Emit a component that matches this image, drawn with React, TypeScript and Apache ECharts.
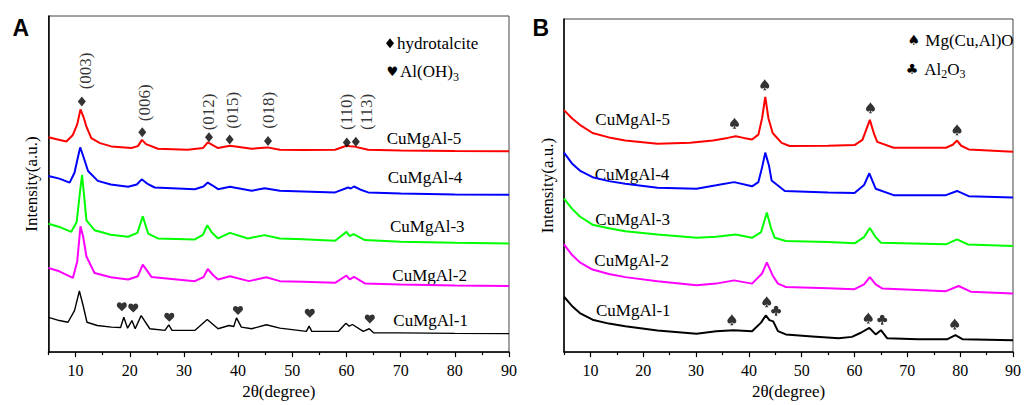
import React, { useEffect, useRef } from "react";
import * as echarts from "echarts";

// ---------- axis ticks ----------
const majorTicks = [10, 20, 30, 40, 50, 60, 70, 80, 90];
const minorTicks = [5, 15, 25, 35, 45, 55, 65, 75, 85];

// ---------- samples ----------
const sampleNames = ["CuMgAl-1", "CuMgAl-2", "CuMgAl-3", "CuMgAl-4", "CuMgAl-5"];
const sampleColors = ["#000000", "#ff00ff", "#00ff00", "#0000ff", "#ff0000"];

// ---------- panel A (2θ, intensity a.u.) ----------
const aCuMgAl1: [number, number][] = [
  [5, 35.3], [7, 32], [8.6, 30.3], [9.8, 42], [10.7, 62], [11.4, 47], [12.1, 30.3], [14, 27], [16.6, 25.3],
  [18.3, 25], [18.9, 35.3], [19.6, 24.3], [20.4, 32], [21, 23.7], [22.1, 37], [23.7, 23.7], [26.5, 22],
  [27.2, 27.7], [27.8, 22], [32, 22], [34.3, 33], [36.3, 23.7], [38.3, 27], [39.2, 26], [39.7, 34.7],
  [40.6, 25.3], [42.5, 23.7], [45.2, 27.7], [47.7, 24.3], [52.6, 21], [53.1, 26.3], [53.6, 21], [58.5, 21],
  [59.9, 29.3], [60.5, 26.3], [61.1, 28], [63.1, 21], [64.2, 23.7], [65, 19.7], [70, 19.5], [80, 19], [90, 18.7],
];
const aCuMgAl2: [number, number][] = [
  [5, 85.3], [7, 82], [9.5, 75.3], [10.3, 92], [10.9, 127.7], [11.4, 117], [12, 97], [13.5, 80.3], [16.5, 76],
  [19.7, 73.7], [21.5, 77], [22.4, 88.7], [24, 76.3], [32, 72], [33.6, 76], [34.4, 84.3], [35.4, 78], [36.3, 73.7],
  [38.5, 77], [42, 72], [45.2, 76], [47.7, 72], [52, 71.5], [57.9, 70.3], [60, 77.7], [60.6, 73.7], [61.4, 76.3],
  [63.4, 69.7], [70, 68.5], [80, 67.5], [90, 67],
];
const aCuMgAl3: [number, number][] = [
  [5, 130.3], [7, 127], [9.2, 122], [10.2, 132], [10.8, 162], [11.2, 179.7], [11.6, 157], [12, 133.7], [13.5, 123.7],
  [16.5, 119], [19.7, 117], [21.4, 121], [22.4, 137.7], [23.4, 120.3], [25.2, 115.3], [32, 114.3], [33.5, 119],
  [34.3, 128.7], [35.2, 121], [36.3, 115.3], [38.5, 121], [41.8, 115.3], [44.9, 118.7], [47.7, 115.3], [52, 114.5],
  [57.9, 113], [60, 122], [60.6, 117.7], [61.3, 119.7], [63.4, 113.7], [70, 112], [80, 111], [90, 110.3],
];
const aCuMgAl4: [number, number][] = [
  [5, 178.7], [7, 176], [8.9, 172], [9.8, 182], [10.4, 197], [10.85, 207.7], [11.4, 199], [12.3, 183.7], [14.1, 173.7],
  [16.5, 170], [19.7, 167.7], [21.3, 170], [22.2, 175.3], [23.2, 171], [24.6, 167], [32, 165.3], [33.6, 168],
  [34.4, 172], [35.3, 169], [36.3, 165.3], [38.5, 167.7], [42.5, 163.7], [44.9, 166.3], [47.7, 163.7], [52, 163],
  [57.9, 162], [60.3, 167], [60.8, 166], [61.4, 168], [62.5, 165], [64, 162], [70, 161], [80, 160], [90, 159.7],
];
const aCuMgAl5: [number, number][] = [
  [5, 218], [6.5, 216], [8.3, 213.7], [9.5, 220.3], [10.3, 231], [10.9, 246.3], [11.5, 238], [12, 228.7], [12.9, 217],
  [14.5, 212], [16.6, 208.7], [20.3, 207], [21.5, 209], [22.25, 215.3], [23, 211], [25.2, 206.3], [30.7, 205.3],
  [33.5, 207], [34.4, 212.7], [36.3, 207], [38.5, 209.3], [42.5, 206.3], [45.4, 207.7], [47.7, 205.3], [52, 205],
  [57.9, 205.3], [60, 209.3], [60.7, 208.8], [61.3, 208.7], [64, 205.3], [70, 204.5], [80, 204], [90, 203.7],
];

// ---------- panel B ----------
const bCuMgAl1: [number, number][] = [
  [5, 56.3], [6.5, 47], [8, 39.7], [10.4, 33], [13.5, 29], [16.6, 26.3], [22.7, 22], [30.1, 18.7], [33.8, 21.3],
  [37.1, 22.3], [40.6, 21.3], [42.3, 30], [43.2, 37.3], [43.9, 32.5], [44.6, 31.3], [45.5, 21.3], [47, 18], [52, 16],
  [57, 14], [59.5, 15.5], [61.2, 19.7], [62.8, 24.7], [64, 18], [65, 22.3], [66.2, 14], [72, 13], [77.5, 13],
  [79.1, 17.3], [80.5, 13], [90, 12],
];
const bCuMgAl2: [number, number][] = [
  [5, 109.7], [6.5, 99], [8, 91.3], [10.4, 84], [13.5, 79.5], [16.6, 76.3], [22.7, 72], [30.1, 68], [33.8, 69.7],
  [37.2, 73], [40.6, 69.7], [42.5, 80], [43.4, 91.3], [44.5, 78], [45.5, 69.7], [47, 66.3], [55, 65], [60, 64],
  [61.8, 69], [62.9, 76.3], [64, 69], [65.3, 64.7], [77.3, 62], [79.7, 67.3], [82, 61.5], [90, 59.7],
];
const bCuMgAl3: [number, number][] = [
  [5, 156.3], [6.5, 146], [8, 138], [10.4, 129.7], [13.5, 126], [16.6, 123], [22.7, 119.7], [30.1, 116.3],
  [33.8, 117.3], [37.5, 119.7], [40.6, 116.3], [42.3, 122], [43.4, 142], [44.2, 126], [44.9, 116.3], [47, 113],
  [55, 112], [60, 110.7], [61.8, 117], [62.9, 126.3], [64, 117], [65, 111.3], [77.3, 109.7], [79.4, 114.7],
  [81.5, 109.5], [90, 108],
];
const bCuMgAl4: [number, number][] = [
  [5, 203], [6.5, 192], [8, 184.7], [10.4, 178], [13.5, 174], [16.6, 171.3], [22.7, 167.3], [30.1, 166.3],
  [33.8, 169.7], [37.2, 173], [40.6, 168.7], [41.8, 173], [42.5, 188], [43.1, 203], [43.8, 190], [44.3, 174.7],
  [46.8, 164], [55, 162.5], [60, 162], [61.8, 170], [62.8, 182], [64, 166.3], [67.4, 159.7], [77.3, 159.7],
  [79.4, 164], [81.6, 158.7], [90, 157.3],
];
const bCuMgAl5: [number, number][] = [
  [5, 246.3], [6.5, 238], [8, 231.3], [10.4, 223], [13.5, 218.5], [16.6, 215.3], [22.7, 212], [28.9, 213],
  [33.2, 215.3], [36, 218], [37.5, 219.7], [39, 218], [40.6, 216.3], [41.8, 221.3], [42.5, 238], [43.1, 259.7],
  [43.7, 238], [44.5, 223], [46.2, 213], [47.7, 209.7], [55, 210], [60, 210.7], [61.5, 216], [62.9, 236.3],
  [63.7, 222], [64.3, 214], [67.4, 208], [77.3, 208], [78.6, 211], [79.4, 215.3], [80.2, 210], [81.6, 206.3], [90, 204],
];

// ---------- phase markers ----------
const hydrotalcitePeaks: [number, number][] = [
  [11.15, 254.3], [22.31, 223], [34.62, 218], [38.44, 215.7], [45.52, 214.3], [60.06, 212.7], [61.73, 213.3],
];
const hklLabels = ["(003)", "(006)", "(012)", "(015)", "(018)", "(110)", "(113)"];
const hklLabelPos: [number, number][] = [
  [11.78, 285.3], [22.74, 253], [34.62, 243.7], [39.05, 245.3], [45.6, 245.3], [60.0, 243.7], [63.7, 243.7],
];
const aloh3Peaks: [number, number][] = [
  [18.54, 46], [20.65, 44.7], [27.3, 35.3], [39.98, 42.3], [53.23, 39.3], [64.31, 33.7],
];
const mgCuAlOPeaks: [number, number][] = [
  [37.28, 233], [43.01, 272], [63.02, 248.7], [79.41, 226.3], [36.78, 33], [43.38, 51.3], [62.6, 34.7], [78.97, 28.7],
];
const al2o3Peaks: [number, number][] = [[45.15, 42], [65.24, 33]];

const xAxisTitle = "2θ(degree)";
const yAxisTitle = "Intensity(a.u.)";

// ---------- symbol shapes (scatter path symbols) ----------
const circ = (cx: number, cy: number, r: number) => {
  const k = 0.5523 * r;
  return `M${cx - r},${cy} C${cx - r},${cy - k} ${cx - k},${cy - r} ${cx},${cy - r} C${cx + k},${cy - r} ${cx + r},${cy - k} ${cx + r},${cy} C${cx + r},${cy + k} ${cx + k},${cy + r} ${cx},${cy + r} C${cx - k},${cy + r} ${cx - r},${cy + k} ${cx - r},${cy} Z `;
};
const HEART = "M50,96 L9,52 C-1,40 2,5 27,5 C39,5 47,13 50,22 C53,13 61,5 73,5 C98,5 101,40 91,52 Z";
const SPADE =
  "M50,0 C40,20 5,40 5,62 C5,78 20,88 35,82 C40,80 45,76 47,72 C46,85 40,95 32,100 L68,100 C60,95 54,85 53,72 C55,76 60,80 65,82 C80,88 95,78 95,62 C95,40 60,20 50,0 Z";
const CLUB =
  circ(50, 26, 21) + circ(25, 56, 21) + circ(75, 56, 21) + "M40,38 L60,38 L60,62 L40,62 Z M46,55 L54,55 L62,100 L38,100 Z";

const serif = "Liberation Serif";

const panelASeries = [aCuMgAl1, aCuMgAl2, aCuMgAl3, aCuMgAl4, aCuMgAl5];
const panelBSeries = [bCuMgAl1, bCuMgAl2, bCuMgAl3, bCuMgAl4, bCuMgAl5];

const labelPosA: [number, number][] = [[393.3, 320.7], [392.3, 275], [390, 226.7], [387.7, 177.7], [386.7, 138.3]];
const labelPosB: [number, number][] = [[596, 310], [594.3, 260.7], [595.3, 219], [594.7, 174], [595.3, 119]];

function txt(x: number, y: number, text: string, extra: any = {}) {
  return {
    type: "text",
    x,
    y,
    silent: true,
    style: {
      text,
      fontFamily: serif,
      fontSize: 17,
      fill: "#000",
      align: "left",
      verticalAlign: "middle",
      ...extra,
    },
  };
}

function glyph(cx: number, cy: number, ch: string, size: number) {
  return {
    type: "text",
    x: cx,
    y: cy,
    silent: true,
    style: { text: ch, fontFamily: "DejaVu Sans", fontSize: size, fill: "#000", align: "center", verticalAlign: "middle" },
  };
}

function xAxes(gridIndex: number) {
  return [
    {
      gridIndex,
      type: "value",
      min: 5,
      max: 90,
      axisLine: { show: true, lineStyle: { color: "#000", width: 1.5 } },
      axisTick: { customValues: majorTicks, length: 5, lineStyle: { color: "#000", width: 1.2 } },
      axisLabel: { customValues: majorTicks, margin: 10, fontSize: 16, fontFamily: serif, color: "#000" },
      splitLine: { show: false },
      name: xAxisTitle,
      nameLocation: "middle",
      nameGap: 28,
      nameTextStyle: { fontSize: 17, fontFamily: serif, color: "#000" },
    },
    {
      gridIndex,
      type: "value",
      position: "bottom",
      min: 5,
      max: 90,
      axisLine: { show: false },
      axisTick: { customValues: minorTicks, length: 3, lineStyle: { color: "#000", width: 1.2 } },
      axisLabel: { show: false },
      splitLine: { show: false },
    },
  ];
}

function yAxis(gridIndex: number, max: number, nameGap: number) {
  return {
    gridIndex,
    type: "value",
    min: 0,
    max,
    axisLine: { show: true, lineStyle: { color: "#000", width: 1.5 } },
    axisTick: { show: false },
    axisLabel: { show: false },
    splitLine: { show: false },
    name: yAxisTitle,
    nameLocation: "middle",
    nameGap,
    nameTextStyle: { fontSize: 17, fontFamily: serif, color: "#000" },
  };
}

function markerSeries(xAxisIndex: number, yAxisIndex: number, data: [number, number][], symbol: string, size: number[]) {
  return {
    type: "scatter",
    xAxisIndex,
    yAxisIndex,
    data,
    symbol,
    symbolSize: size,
    itemStyle: { color: "#000" },
    silent: true,
    z: 5,
  };
}

export default function App() {
  const ref = useRef<HTMLDivElement>(null);
  useEffect(() => {
    if (!ref.current) return;
    const chart = echarts.init(ref.current, undefined, { renderer: "svg" });

    const lineSeries: any[] = [];
    panelASeries.forEach((d, i) =>
      lineSeries.push({
        type: "line",
        name: sampleNames[i],
        xAxisIndex: 0,
        yAxisIndex: 0,
        data: d,
        showSymbol: false,
        symbol: "none",
        lineStyle: { color: sampleColors[i], width: i === 0 ? 1.4 : 2 },
        silent: true,
      })
    );
    panelBSeries.forEach((d, i) =>
      lineSeries.push({
        type: "line",
        name: sampleNames[i],
        xAxisIndex: 2,
        yAxisIndex: 1,
        data: d,
        showSymbol: false,
        symbol: "none",
        lineStyle: { color: sampleColors[i], width: 2 },
        silent: true,
      })
    );

    const option: any = {
      animation: false,
      grid: [
        { left: 48.5, top: 16, width: 460.5, height: 341, show: true, borderColor: "#444", borderWidth: 1 },
        { left: 564, top: 19, width: 460, height: 339, show: true, borderColor: "#444", borderWidth: 1 },
      ],
      xAxis: [...xAxes(0), ...xAxes(1)],
      yAxis: [yAxis(0, 341, 9), yAxis(1, 339, 8)],
      series: [
        ...lineSeries,
        markerSeries(0, 0, hydrotalcitePeaks, "diamond", [8, 10]),
        markerSeries(0, 0, aloh3Peaks, "path://" + HEART, [10, 9]),
        markerSeries(2, 1, mgCuAlOPeaks, "path://" + SPADE, [9, 11]),
        markerSeries(2, 1, al2o3Peaks, "path://" + CLUB, [10, 10]),
        {
          type: "scatter",
          xAxisIndex: 0,
          yAxisIndex: 0,
          symbolSize: 0,
          silent: true,
          itemStyle: { color: "transparent" },
          data: hklLabelPos.map((p, i) => ({ value: p, name: hklLabels[i] })),
          label: {
            show: true,
            position: "inside",
            rotate: 90,
            formatter: "{b}",
            fontFamily: serif,
            fontSize: 17,
            color: "#000",
          },
          z: 6,
        },
      ],
      graphic: [
        txt(12.5, 28.3, "A", { fontFamily: "Liberation Sans", fontWeight: "bold", fontSize: 23 }),
        txt(532.5, 28.3, "B", { fontFamily: "Liberation Sans", fontWeight: "bold", fontSize: 23 }),
        ...labelPosA.map((p, i) => txt(p[0], p[1], sampleNames[i])),
        ...labelPosB.map((p, i) => txt(p[0], p[1], sampleNames[i])),
        {
          type: "polygon",
          silent: true,
          shape: { points: [[390, 38.3], [394, 43.3], [390, 48.3], [386, 43.3]] },
          style: { fill: "#000" },
        },
        txt(397, 43.3, "hydrotalcite"),
        glyph(392.3, 71.7, "♥", 13),
        txt(400, 71.7, "{n|Al(OH)}{s|3}", {
          rich: {
            n: { fontFamily: serif, fontSize: 17, fill: "#000" },
            s: { fontFamily: serif, fontSize: 12, fill: "#000", padding: [10, 0, 0, 0] },
          },
        }),
        glyph(913.7, 40, "♠", 14),
        txt(925.3, 40, "Mg(Cu,Al)O"),
        glyph(912, 69, "♣", 14),
        txt(924.3, 69, "{n|Al}{s|2}{n|O}{s|3}", {
          rich: {
            n: { fontFamily: serif, fontSize: 17, fill: "#000" },
            s: { fontFamily: serif, fontSize: 12, fill: "#000", padding: [10, 0, 0, 0] },
          },
        }),
      ],
    };
    chart.setOption(option);
    return () => chart.dispose();
  }, []);
  return <div ref={ref} style={{ position: "absolute", left: 0, top: 0, width: 1024, height: 405 }} />;
}
